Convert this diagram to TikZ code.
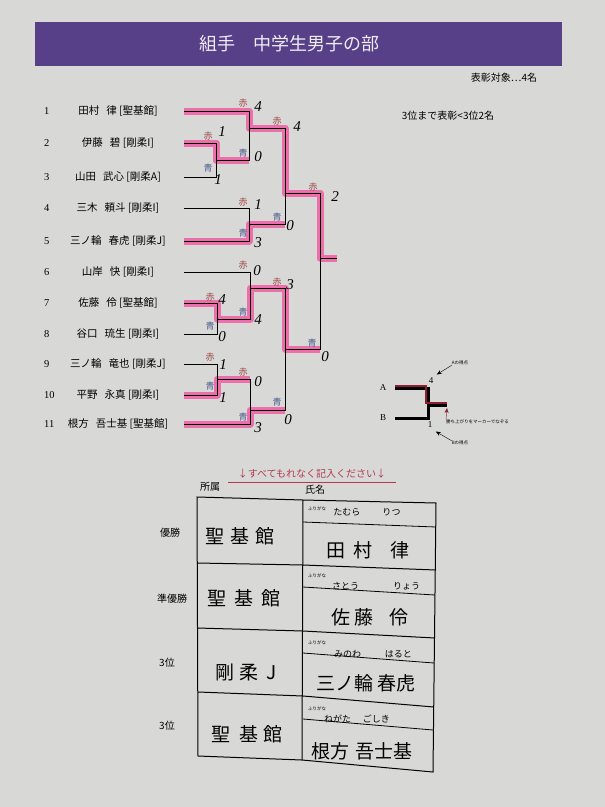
\documentclass[tikz,border=0pt]{standalone}
\usepackage{fontspec}
\setmainfont{Liberation Serif}
\newfontfamily\jp{Noto Sans CJK JP}
\usetikzlibrary{arrows.meta}
\definecolor{paper}{RGB}{216,217,215}
\definecolor{headbar}{RGB}{88,64,136}
\definecolor{marker}{RGB}{240,92,164}
\definecolor{akacol}{RGB}{160,66,62}
\definecolor{aocol}{RGB}{74,90,142}
\definecolor{notice}{RGB}{178,58,80}
\definecolor{legendred}{RGB}{140,30,50}

\begin{document}
\begin{tikzpicture}[x=1pt,y=-1pt,
    br/.style={line width=1pt},
    hl/.style={line width=7pt,draw=marker,opacity=0.85,line join=round},
    redlab/.style={text=akacol,font=\jp\fontsize{9}{9}\selectfont,inner sep=0pt},
    bluelab/.style={text=aocol,font=\jp\fontsize{9}{9}\selectfont,inner sep=0pt},
    score/.style={font=\fontsize{15}{15}\selectfont\itshape,inner sep=0pt},
    pname/.style={font=\jp\fontsize{10.5}{12}\selectfont,inner sep=0pt},
    num/.style={font=\fontsize{10.5}{12}\selectfont,inner sep=0pt,anchor=west},
    small/.style={font=\jp\fontsize{10}{12}\selectfont,inner sep=0pt},
    tiny/.style={font=\jp\fontsize{4.5}{5}\selectfont,inner sep=0pt},
    hand/.style={font=\jp\fontsize{19}{20}\selectfont,inner sep=0pt},
    kana/.style={font=\jp\fontsize{9}{10}\selectfont,inner sep=0pt},
    >={Stealth[length=5pt,width=4pt]}
]
\useasboundingbox (0,0) rectangle (605,807);
\fill[paper] (0,0) rectangle (605,807);

% header
\fill[headbar] (35,22) rectangle (562,66);
\node[font=\jp\fontsize{18}{20}\selectfont,text=white!90!headbar] (title) at (289,44) {組手　中学生男子の部};
\node[small] (target) at (504,78) {表彰対象…4名};
\node[small] (rule) at (448,116) {3位まで表彰<3位2名};

% players
\foreach \i/\y/\fam/\giv/\dojo in {1/111/田村/律/聖基館,2/143/伊藤/碧/剛柔I,3/177/山田/武心/剛柔A,
    4/208/三木/頼斗/剛柔I,5/241/三ノ輪/春虎/剛柔J,6/272/山岸/快/剛柔I,
    7/303/佐藤/伶/聖基館,8/334/谷口/琉生/剛柔I,9/364/三ノ輪/竜也/剛柔J,
    10/395/平野/永真/剛柔I,11/424/根方/吾士基/聖基館}{
  \node[num] (no\i) at (44,\y) {\i};
  \node[pname] (n\i) at (118,\y) {\fam\hspace{7pt}\giv\ [\dojo]};
  \coordinate (s\i) at (184,\y);
}

% match points
\coordinate (m1) at (216,160);
\coordinate (m2) at (249,128);
\coordinate (m3) at (249,224);
\coordinate (m4) at (217,319);
\coordinate (m5) at (250,288);
\coordinate (m6) at (217,379);
\coordinate (m7) at (250,410);
\coordinate (sf1) at (285,193);
\coordinate (sf2) at (285,349);
\coordinate (fin) at (320,258);
\coordinate (win) at (337,258);

% marker
\draw[hl] (s1) -| (m2) -| (sf1) -| (fin) -- (win);
\draw[hl] (s2) -| (m1) -- (m1 -| m2);
\draw[hl] (s5) -| (m3) -- (m3 -| sf1);
\draw[hl] (s7) -| (m4) -| (m5) -| (sf2) -- (sf2 -| fin);
\draw[hl] (s10) -| (m6) -- (m6 -| m7);
\draw[hl] (s11) -| (m7) -- (m7 -| sf2);

% bracket
\draw[br] (s2) -| (m1) (s3) -| (m1) (m1) -| (m2) (s1) -| (m2);
\draw[br] (s4) -| (m3) (s5) -| (m3);
\draw[br] (m2) -| (sf1) (m3) -| (sf1);
\draw[br] (s7) -| (m4) (s8) -| (m4) (m4) -| (m5) (s6) -| (m5);
\draw[br] (s9) -| (m6) (s10) -| (m6) (m6) -| (m7) (s11) -| (m7);
\draw[br] (m5) -| (sf2) (m7) -| (sf2);
\draw[br] (sf1) -| (fin) (sf2) -| (fin) (fin) -- (win);

% red / blue corners
\foreach \k/\x/\y in {1/208/136,2/243/103,3/243/202,4/277/121,5/313/187,
    6/210/297,7/243/265,8/210/357,9/243/372,10/277/282}
  \node[redlab] (aka\k) at (\x,\y) {赤};
\foreach \k/\x/\y in {1/208/168,2/243/153,3/243/233,4/277/217,5/312/343,
    6/210/326,7/243/312,8/210/386,9/243/417,10/277/402}
  \node[bluelab] (ao\k) at (\x,\y) {青};

% scores
\foreach \k/\x/\y/\v in {1/222/132/1,2/218/180/1,3/258/107/4,4/258/157/0,
    5/258/205/1,6/258/243/3,7/297/127/4,8/290/226/0,9/335/197/2,10/325/357/0,
    11/222/300/4,12/222/337/0,13/257/271/0,14/258/320/4,15/223/365/1,
    16/223/398/1,17/258/382/0,18/258/428/3,19/290/285/3,20/288/420/0}
  \node[score] (sc\k) at (\x,\y) {\v};

% legend
\coordinate (la) at (395,388);
\coordinate (lb) at (395,418);
\coordinate (lm) at (428,405);
\coordinate (lw) at (447,405);
\draw[line width=3pt] (la) -| (lm) -- (lw);
\draw[line width=3pt] (lb) -| (lm);
\draw[legendred,line width=2pt] ([yshift=2pt]la) -| ([xshift=-2pt,yshift=2pt]lm) -- ([yshift=2pt]lw);
\node[font=\fontsize{9}{10}\selectfont] (labA) at (383,388) {A};
\node[font=\fontsize{9}{10}\selectfont] (labB) at (383,418) {B};
\node[font=\fontsize{9}{10}\selectfont] (ptA) at (431,381) {4};
\node[font=\fontsize{9}{10}\selectfont] (ptB) at (430,425) {1};
\node[tiny] (txA) at (460,363) {Aの得点};
\node[tiny] (txB) at (460,443) {Bの得点};
\node[tiny,anchor=west] (txM) at (446,422) {勝ち上がりをマーカーでなぞる};
\draw[->] (txA.south west) -- (ptA.north east);
\draw[->] (txB.north west) -- (ptB.south east);
\draw[->,legendred] (txM.north west) -- ([shift={(0pt,-3pt)}]lw);

% table
\node[font=\jp\fontsize{10}{12}\selectfont,text=notice] (note) at (312,474) {↓すべてもれなく記入ください↓};
\draw[notice,line width=0.8pt] (228,482) -- (396,482);
\node[small] (hdaff) at (210,487) {所属};
\node[small] (hdname) at (315,490) {氏名};

\coordinate (t0) at (197,497); \coordinate (u0) at (303,500); \coordinate (v0) at (436,503);
\coordinate (t1) at (197,563); \coordinate (u1) at (303,565); \coordinate (v1) at (436,570);
\coordinate (t2) at (197,628); \coordinate (u2) at (303,631); \coordinate (v2) at (435,638);
\coordinate (t3) at (198,692); \coordinate (u3) at (303,696); \coordinate (v3) at (434,707);
\coordinate (t4) at (198,756); \coordinate (u4) at (302,760); \coordinate (v4) at (433,772);
\draw[line width=1pt] (t0) -- (u0) -- (v0) -- (v4) -- (u4) -- (t4) -- cycle;
\draw[line width=1pt] (u0) -- (u4);
\foreach \r in {1,2,3}
  \draw[line width=1pt] (t\r) -- (u\r) -- (v\r);
\draw[line width=0.8pt] (303,522) -- (436,527);
\draw[line width=0.8pt] (303,587) -- (435,595);
\draw[line width=0.8pt] (303,653) -- (434,663);
\draw[line width=0.8pt] (303,719) -- (433,730);

\node[small] (pl1) at (170,533) {優勝};
\node[small] (pl2) at (172,599) {準優勝};
\node[small] (pl3) at (167,663) {3位};
\node[small] (pl4) at (167,726) {3位};

\node[hand] (af1) at (240,536) {聖\hspace{6pt}基\hspace{6pt}館};
\node[hand] (af2) at (244,598) {聖\hspace{8pt}基\hspace{8pt}館};
\node[hand] (af3) at (246,672) {剛\hspace{5pt}柔\hspace{8pt}J};
\node[hand] (af4) at (247,734) {聖\hspace{9pt}基\hspace{5pt}館};

\foreach \k/\y in {1/509,2/576,3/643,4/709}
  \node[tiny] (fg\k) at (317,\y) {ふりがな};
\node[kana] (kn1) at (367,512) {たむら\hspace{22pt}りつ};
\node[kana] (kn2) at (376,586) {さとう\hspace{34pt}りょう};
\node[kana] (kn3) at (373,654) {みのわ\hspace{24pt}はると};
\node[kana] (kn4) at (357,719) {ねがた\hspace{12pt}ごしき};

\node[hand] (nm1) at (368,550) {田\hspace{8pt}村\hspace{18pt}律};
\node[hand] (nm2) at (370,617) {佐\hspace{4pt}藤\hspace{16pt}伶};
\node[hand] (nm3) at (366,683) {三ノ輪\hspace{4pt}春虎};
\node[hand] (nm4) at (362,751) {根方\hspace{6pt}吾士基};
\end{tikzpicture}
\end{document}
